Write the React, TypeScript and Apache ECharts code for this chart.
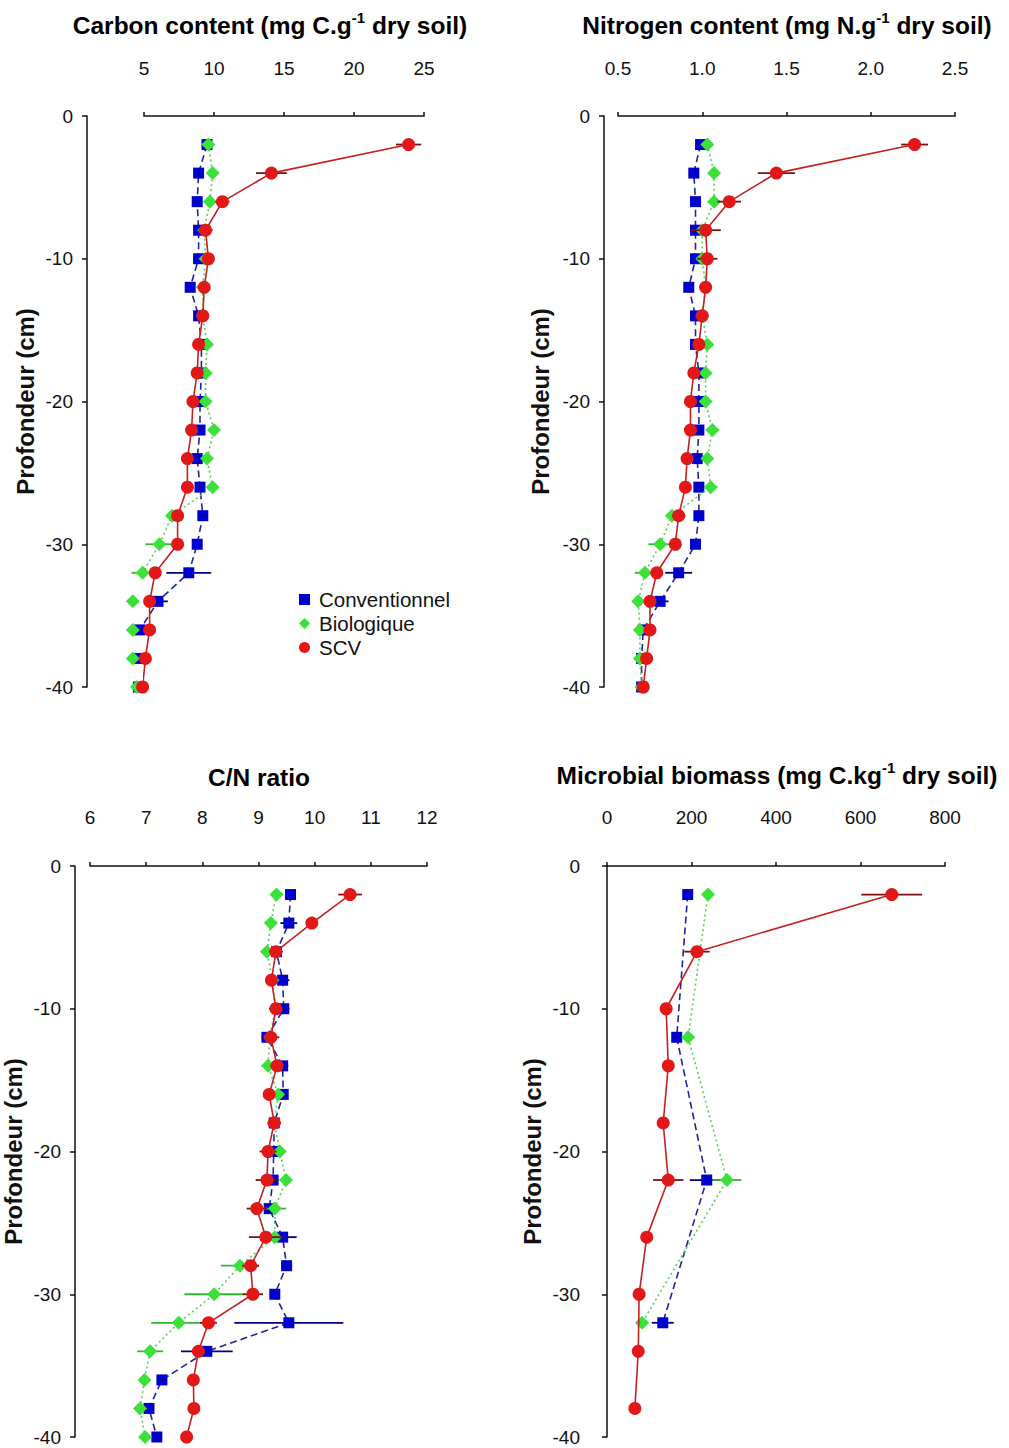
import React, { useEffect, useRef } from "react";
import * as echarts from "echarts";

const FONT = '"Liberation Sans", Arial, sans-serif';

// depths (cm)
const depths = [-2, -4, -6, -8, -10, -12, -14, -16, -18, -20, -22, -24, -26, -28, -30, -32, -34, -36, -38, -40];

// Carbon content (mg C.g-1 dry soil)
const carbonConv = [9.5, 8.9, 8.8, 8.9, 8.9, 8.3, 8.9, 9.1, 9.1, 9.0, 9.0, 8.8, 9.0, 9.2, 8.8, 8.2, 6.0, 4.7, 4.5, 4.6];
const carbonConvErr = [0.2, 0.3, 0.3, 0.3, 0.2, 0.2, 0.2, 0.2, 0.2, 0.2, 0.2, 0.2, 0.3, 0.2, 0.2, 1.6, 0.7, 0.2, 0.2, 0.2];
const carbonBio = [9.6, 9.9, 9.7, 9.3, 9.4, 9.2, 9.2, 9.5, 9.4, 9.4, 10.0, 9.5, 9.9, 7.0, 6.1, 4.9, 4.2, 4.2, 4.2, 4.5];
const carbonBioErr = [0.2, 0.2, 0.2, 0.3, 0.2, 0.2, 0.2, 0.2, 0.2, 0.2, 0.3, 0.3, 0.4, 0.4, 1.0, 0.8, 0.2, 0.2, 0.2, 0.2];
const carbonSCV = [23.9, 14.1, 10.6, 9.4, 9.6, 9.3, 9.2, 8.9, 8.8, 8.5, 8.4, 8.1, 8.1, 7.4, 7.4, 5.8, 5.4, 5.4, 5.1, 4.9];
const carbonSCVErr = [0.9, 1.1, 0.5, 0.5, 0.3, 0.3, 0.2, 0.2, 0.2, 0.2, 0.2, 0.2, 0.2, 0.2, 0.2, 0.2, 0.3, 0.2, 0.2, 0.2];

// Nitrogen content (mg N.g-1 dry soil)
const nConv = [0.99, 0.95, 0.96, 0.96, 0.96, 0.92, 0.96, 0.96, 0.98, 0.98, 0.98, 0.97, 0.98, 0.98, 0.96, 0.86, 0.75, 0.65, 0.64, 0.64];
const nConvErr = [0.02, 0.03, 0.02, 0.03, 0.03, 0.02, 0.02, 0.02, 0.02, 0.02, 0.02, 0.02, 0.03, 0.02, 0.02, 0.08, 0.05, 0.02, 0.02, 0.02];
const nBio = [1.03, 1.07, 1.07, 1.0, 1.0, 1.02, 1.0, 1.03, 1.02, 1.02, 1.06, 1.03, 1.05, 0.82, 0.75, 0.66, 0.62, 0.63, 0.63, 0.64];
const nBioErr = [0.02, 0.02, 0.02, 0.02, 0.02, 0.02, 0.02, 0.02, 0.02, 0.02, 0.04, 0.03, 0.04, 0.03, 0.07, 0.06, 0.02, 0.02, 0.02, 0.02];
const nSCV = [2.26, 1.44, 1.16, 1.02, 1.03, 1.02, 1.0, 0.98, 0.95, 0.93, 0.93, 0.91, 0.9, 0.86, 0.84, 0.73, 0.69, 0.69, 0.67, 0.65];
const nSCVErr = [0.08, 0.11, 0.07, 0.09, 0.06, 0.03, 0.03, 0.02, 0.02, 0.02, 0.02, 0.02, 0.02, 0.04, 0.02, 0.02, 0.02, 0.02, 0.02, 0.02];

// C/N ratio
const cnConv = [9.57, 9.54, 9.32, 9.43, 9.45, 9.15, 9.43, 9.44, 9.28, 9.27, 9.26, 9.19, 9.43, 9.5, 9.29, 9.54, 8.08, 7.28, 7.05, 7.19];
const cnConvErr = [0.05, 0.15, 0.1, 0.12, 0.1, 0.1, 0.1, 0.08, 0.08, 0.08, 0.1, 0.08, 0.25, 0.1, 0.08, 0.97, 0.46, 0.05, 0.05, 0.05];
const cnBio = [9.32, 9.22, 9.15, 9.25, 9.3, 9.2, 9.17, 9.35, 9.28, 9.38, 9.49, 9.29, 9.29, 8.67, 8.21, 7.58, 7.07, 6.97, 6.89, 6.98];
const cnBioErr = [0.05, 0.05, 0.08, 0.05, 0.05, 0.05, 0.12, 0.05, 0.05, 0.1, 0.1, 0.2, 0.1, 0.34, 0.53, 0.49, 0.23, 0.05, 0.05, 0.05];
const cnSCV = [10.63, 9.95, 9.31, 9.23, 9.31, 9.22, 9.33, 9.19, 9.28, 9.17, 9.15, 8.97, 9.13, 8.86, 8.9, 8.11, 7.93, 7.84, 7.85, 7.72];
const cnSCVErr = [0.21, 0.08, 0.12, 0.1, 0.12, 0.15, 0.12, 0.1, 0.12, 0.15, 0.2, 0.18, 0.3, 0.15, 0.18, 0.15, 0.12, 0.05, 0.05, 0.05];

// Microbial biomass (mg C.kg-1 dry soil)
const mbDepths = [-2, -12, -22, -32];
const mbConv = [191, 165, 236, 132];
const mbConvErr = [8, 10, 40, 26];
const mbBio = [239, 192, 284, 83];
const mbBioErr = [8, 15, 34, 8];
const mbDepthsSCV = [-2, -6, -10, -14, -18, -22, -26, -30, -34, -38];
const mbSCV = [674, 213, 140, 145, 133, 145, 94, 76, 74, 66];
const mbSCVErr = [72, 30, 8, 8, 12, 36, 10, 6, 6, 6];

const depthTicks = { min: -40, max: 0, interval: 10 };

const TREAT = [
  { name: "Conventionnel", symbol: "rect", size: 11, color: "#0000CD", line: "#22229A", lineType: [7, 4], err: "#000080" },
  { name: "Biologique", symbol: "diamond", size: 14, color: "#3BE03B", line: "#5ACC5A", lineType: [2, 3], err: "#2FB82F" },
  { name: "SCV", symbol: "circle", size: 13, color: "#E21818", line: "#C42020", lineType: "solid", err: "#7A1010" },
];

const panels = [
  {
    title: ["Carbon content (mg C.g", "-1", " dry soil)"], tx: 270, ty: 25,
    grid: { left: 144, top: 116, width: 280, height: 571 }, yOff: 57, xOff: 24, labX: 25,
    xMin: 5, xMax: 25, xInt: 5, dec: 0,
    series: [
      { x: carbonConv, e: carbonConvErr, d: depths },
      { x: carbonBio, e: carbonBioErr, d: depths },
      { x: carbonSCV, e: carbonSCVErr, d: depths },
    ],
  },
  {
    title: ["Nitrogen content (mg N.g", "-1", " dry soil)"], tx: 787, ty: 25,
    grid: { left: 618, top: 116, width: 337, height: 571 }, yOff: 14, xOff: 24, labX: 540,
    xMin: 0.5, xMax: 2.5, xInt: 0.5, dec: 1,
    series: [
      { x: nConv, e: nConvErr, d: depths },
      { x: nBio, e: nBioErr, d: depths },
      { x: nSCV, e: nSCVErr, d: depths },
    ],
  },
  {
    title: ["C/N ratio"], tx: 259, ty: 777,
    grid: { left: 90, top: 866, width: 337, height: 571 }, yOff: 15, xOff: 25, labX: 13,
    xMin: 6, xMax: 12, xInt: 1, dec: 0,
    series: [
      { x: cnConv, e: cnConvErr, d: depths },
      { x: cnBio, e: cnBioErr, d: depths },
      { x: cnSCV, e: cnSCVErr, d: depths },
    ],
  },
  {
    title: ["Microbial biomass (mg C.kg", "-1", " dry soil)"], tx: 777, ty: 775,
    grid: { left: 607, top: 866, width: 338, height: 571 }, yOff: 13, xOff: 25, labX: 532,
    xMin: 0, xMax: 800, xInt: 200, dec: 0,
    series: [
      { x: mbConv, e: mbConvErr, d: mbDepths },
      { x: mbBio, e: mbBioErr, d: mbDepths },
      { x: mbSCV, e: mbSCVErr, d: mbDepthsSCV },
    ],
  },
];

export default function App() {
  const ref = useRef<HTMLDivElement>(null);
  useEffect(() => {
    document.body.style.margin = "0";
    if (!ref.current) return;
    const chart = echarts.init(ref.current, null, { renderer: "svg" });

    const grid: any[] = [];
    const xAxis: any[] = [];
    const yAxis: any[] = [];
    const series: any[] = [];
    const graphic: any[] = [];

    panels.forEach((p, i) => {
      grid.push({ ...p.grid, containLabel: false });
      xAxis.push({
        type: "value", gridIndex: i, position: "top", offset: p.xOff,
        min: p.xMin, max: p.xMax, interval: p.xInt,
        splitLine: { show: false },
        axisLine: { show: true, lineStyle: { color: "#111", width: 1.5 } },
        axisTick: { show: true, inside: false, length: 4, lineStyle: { color: "#111", width: 1.5 } },
        axisLabel: {
          margin: 14, fontSize: 19, color: "#111", fontFamily: FONT,
          formatter: (v: number) => v.toFixed(p.dec),
        },
      });
      yAxis.push({
        type: "value", gridIndex: i, position: "left", offset: p.yOff,
        ...depthTicks,
        splitLine: { show: false },
        axisLine: { show: true, lineStyle: { color: "#111", width: 1.5 } },
        axisTick: { show: true, inside: false, length: 5, lineStyle: { color: "#111", width: 1.5 } },
        axisLabel: { margin: 14, fontSize: 19, color: "#111", fontFamily: FONT },
      });

      p.series.forEach((s, k) => {
        const t = TREAT[k];
        const errData = s.x.map((v, j) => [v, s.d[j], s.e[j]]);
        series.push({
          type: "custom", name: t.name + " SE", xAxisIndex: i, yAxisIndex: i, z: 1 + k * 2,
          clip: false, silent: true,
          encode: { x: 0, y: 1 },
          data: errData,
          renderItem: (_params: any, api: any) => {
            const x = api.value(0), y = api.value(1), e = api.value(2);
            const a = api.coord([x - e, y]);
            const b = api.coord([x + e, y]);
            return {
              type: "line",
              shape: { x1: a[0], y1: a[1], x2: b[0], y2: b[1] },
              style: { stroke: t.err, lineWidth: 1.8 },
            };
          },
        });
        series.push({
          type: "line", name: t.name, xAxisIndex: i, yAxisIndex: i, z: 2 + k * 2,
          clip: false,
          data: s.x.map((v, j) => [v, s.d[j]]),
          symbol: t.symbol, symbolSize: t.size, showAllSymbol: true,
          itemStyle: { color: t.color, borderWidth: 0 },
          lineStyle: { color: t.line, width: 1.6, type: t.lineType },
        });
      });

      // title
      const rich = {
        a: { fontFamily: FONT, fontSize: 24.5, fontWeight: "bold", color: "#111", lineHeight: 30 },
        s: { fontFamily: FONT, fontSize: 15, fontWeight: "bold", color: "#111", verticalAlign: "top", lineHeight: 15 },
      };
      const txt = p.title.length === 3
        ? `{a|${p.title[0]}}{s|${p.title[1]}}{a|${p.title[2]}}`
        : `{a|${p.title[0]}}`;
      graphic.push({
        type: "text", x: p.tx, y: p.ty,
        style: { text: txt, rich, textAlign: "center", textVerticalAlign: "middle" },
      });
      graphic.push({
        type: "text", x: p.labX, y: p.grid.top + p.grid.height / 2, rotation: Math.PI / 2,
        style: {
          text: "Profondeur (cm)", font: `bold 24px ${FONT}`, fill: "#111",
          textAlign: "center", textVerticalAlign: "middle",
        },
      });
    });

    chart.setOption({
      animation: false,
      backgroundColor: "#fff",
      grid, xAxis, yAxis, series, graphic,
      legend: {
        orient: "vertical", left: 294, top: 584, itemGap: 3,
        itemWidth: 11, itemHeight: 11,
        textStyle: { fontFamily: FONT, fontSize: 20.5, color: "#111", padding: [0, 0, 0, 4] },
        data: [
          { name: "Conventionnel", icon: "rect" },
          { name: "Biologique", icon: "diamond" },
          { name: "SCV", icon: "circle" },
        ],
      },
    });
    return () => chart.dispose();
  }, []);
  return <div ref={ref} style={{ width: 1009, height: 1448 }} />;
}
